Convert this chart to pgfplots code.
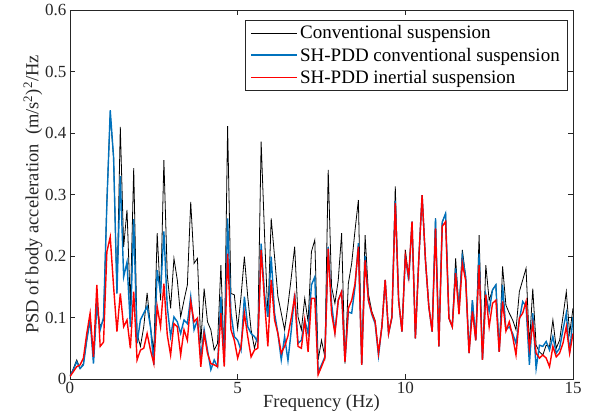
\documentclass[border=0pt]{standalone}
\usepackage{pgfplots}
\usepackage{pgfplotstable}
\pgfplotsset{compat=1.18}
\usepackage{fontspec}
\setmainfont{Liberation Serif}
\definecolor{mblue}{rgb}{0,0.447,0.741}
\definecolor{axgray}{rgb}{0.15,0.15,0.15}
\pgfplotstableread{
x a b c
0.0 0.005 0.005 0.004
0.1 0.017 0.015 0.012
0.2 0.031 0.028 0.020
0.3 0.017 0.017 0.023
0.4 0.025 0.023 0.034
0.5 0.063 0.063 0.074
0.6 0.100 0.096 0.107
0.7 0.031 0.025 0.036
0.8 0.123 0.118 0.153
0.9 0.085 0.080 0.053
1.0 0.096 0.100 0.060
1.1 0.290 0.286 0.207
1.2 0.430 0.437 0.231
1.3 0.360 0.360 0.150
1.4 0.140 0.139 0.077
1.5 0.410 0.330 0.139
1.6 0.215 0.166 0.085
1.7 0.275 0.190 0.096
1.8 0.118 0.085 0.050
1.9 0.343 0.260 0.142
2.0 0.074 0.058 0.031
2.1 0.053 0.096 0.047
2.2 0.085 0.107 0.050
2.3 0.140 0.118 0.074
2.4 0.085 0.085 0.047
2.5 0.044 0.023 0.025
2.6 0.237 0.177 0.118
2.7 0.128 0.139 0.085
2.8 0.356 0.240 0.155
2.9 0.170 0.118 0.072
3.0 0.115 0.069 0.039
3.1 0.196 0.101 0.090
3.2 0.161 0.093 0.085
3.3 0.101 0.074 0.039
3.4 0.128 0.096 0.080
3.5 0.153 0.090 0.063
3.6 0.288 0.134 0.126
3.7 0.188 0.080 0.093
3.8 0.196 0.096 0.099
3.9 0.058 0.036 0.020
4.0 0.147 0.080 0.074
4.1 0.093 0.047 0.042
4.2 0.080 0.015 0.025
4.3 0.047 0.031 0.023
4.4 0.058 0.020 0.020
4.5 0.185 0.134 0.107
4.6 0.030 0.025 0.020
4.7 0.411 0.261 0.204
4.8 0.139 0.107 0.080
4.9 0.137 0.069 0.063
5.0 0.082 0.063 0.034
5.1 0.134 0.047 0.053
5.2 0.199 0.134 0.107
5.3 0.134 0.085 0.069
5.4 0.080 0.074 0.036
5.5 0.050 0.069 0.047
5.6 0.072 0.060 0.050
5.7 0.386 0.220 0.210
5.8 0.237 0.139 0.128
5.9 0.101 0.101 0.053
6.0 0.261 0.199 0.161
6.1 0.199 0.107 0.096
6.2 0.134 0.074 0.074
6.3 0.107 0.031 0.042
6.4 0.080 0.069 0.053
6.5 0.120 0.030 0.070
6.6 0.166 0.080 0.100
6.7 0.215 0.139 0.134
6.8 0.101 0.058 0.053
6.9 0.080 0.063 0.050
7.0 0.131 0.096 0.096
7.1 0.093 0.074 0.044
7.2 0.207 0.153 0.131
7.3 0.226 0.166 0.131
7.4 0.031 0.012 0.007
7.5 0.063 0.023 0.020
7.6 0.036 0.036 0.034
7.7 0.340 0.215 0.212
7.8 0.150 0.123 0.107
7.9 0.123 0.077 0.074
8.0 0.161 0.128 0.128
8.1 0.237 0.142 0.142
8.2 0.025 0.028 0.028
8.3 0.155 0.109 0.115
8.4 0.188 0.107 0.128
8.5 0.242 0.150 0.155
8.6 0.291 0.221 0.215
8.7 0.025 0.023 0.023
8.8 0.234 0.200 0.193
8.9 0.138 0.128 0.128
9.0 0.110 0.105 0.107
9.1 0.095 0.090 0.093
9.2 0.042 0.038 0.042
9.3 0.085 0.085 0.085
9.4 0.161 0.161 0.161
9.5 0.074 0.074 0.074
9.6 0.101 0.100 0.101
9.7 0.313 0.290 0.286
9.8 0.128 0.128 0.128
9.9 0.077 0.077 0.077
10.0 0.210 0.200 0.200
10.1 0.166 0.160 0.166
10.2 0.256 0.256 0.256
10.3 0.066 0.066 0.066
10.4 0.193 0.193 0.193
10.5 0.299 0.299 0.299
10.6 0.193 0.193 0.193
10.7 0.118 0.118 0.118
10.8 0.077 0.077 0.077
10.9 0.261 0.261 0.245
11.0 0.053 0.053 0.053
11.1 0.255 0.255 0.248
11.2 0.269 0.269 0.256
11.3 0.099 0.099 0.099
11.4 0.085 0.085 0.085
11.5 0.196 0.180 0.172
11.6 0.112 0.112 0.105
11.7 0.210 0.200 0.188
11.8 0.166 0.166 0.160
11.9 0.042 0.042 0.042
12.0 0.128 0.128 0.110
12.1 0.063 0.063 0.063
12.2 0.234 0.204 0.185
12.3 0.031 0.031 0.031
12.4 0.185 0.137 0.137
12.5 0.128 0.110 0.085
12.6 0.145 0.145 0.123
12.7 0.153 0.153 0.128
12.8 0.044 0.044 0.044
12.9 0.183 0.153 0.126
13.0 0.120 0.080 0.078
13.1 0.107 0.085 0.093
13.2 0.096 0.074 0.069
13.3 0.080 0.058 0.039
13.4 0.142 0.096 0.099
13.5 0.161 0.126 0.107
13.6 0.180 0.118 0.126
13.7 0.055 0.023 0.050
13.8 0.147 0.107 0.090
13.9 0.055 0.017 0.042
14.0 0.044 0.055 0.034
14.1 0.039 0.053 0.039
14.2 0.055 0.061 0.034
14.3 0.053 0.047 0.020
14.4 0.096 0.069 0.053
14.5 0.050 0.042 0.036
14.6 0.063 0.050 0.042
14.7 0.101 0.080 0.058
14.8 0.142 0.107 0.085
14.9 0.074 0.042 0.042
15.0 0.115 0.101 0.074
}\psd
\begin{document}
\begin{tikzpicture}
\begin{axis}[
  name=ax,
  scale only axis,
  width=503pt, height=369pt,
  xmin=0, xmax=15, ymin=0, ymax=0.6,
  xtick={0,5,10,15}, xticklabels={0,5,10,15},
  ytick={0,0.1,0.2,0.3,0.4,0.5,0.6},
  yticklabels={0,0.1,0.2,0.3,0.4,0.5,0.6},
  tick align=inside,
  major tick length=5pt,
  axis line style={axgray, line width=0.6pt},
  tick style={axgray, line width=0.6pt},
  ticklabel style={font=\fontsize{17}{19}\selectfont, text=axgray},
  xlabel={Frequency (Hz)},
  ylabel={PSD of body acceleration\ \ (m/s\textsuperscript{2})\textsuperscript{2}/Hz},
  label style={font=\fontsize{18.5}{20}\selectfont, text=axgray},
  xlabel style={yshift=6pt},
  ylabel style={yshift=-4pt},
  legend style={at={(rel axis cs:0.988,0.973)}, anchor=north east,
    font=\fontsize{19}{21}\selectfont, draw=axgray,
    inner xsep=5pt, inner ysep=3.5pt, row sep=3.5pt},
  legend cell align=left,
  legend image code/.code={\draw[#1] (0pt,0pt) -- (46pt,0pt);},
]
\addlegendimage{black, line width=0.9pt}
\addlegendentry{Conventional suspension}
\addlegendimage{mblue, line width=1.6pt}
\addlegendentry{SH-PDD conventional suspension}
\addlegendimage{red, line width=1.6pt}
\addlegendentry{SH-PDD inertial suspension}
\addplot[black, line width=0.8pt, forget plot] table[x=x, y=a] {\psd};
\addplot[mblue, line width=1.4pt, forget plot] table[x=x, y=b] {\psd};
\addplot[red, line width=1.4pt, forget plot] table[x=x, y=c] {\psd};
\end{axis}
\pgfresetboundingbox
\path ([shift={(-70pt,-41pt)}]ax.south west) rectangle ([shift={(21pt,10pt)}]ax.north east);
\end{tikzpicture}
\end{document}
